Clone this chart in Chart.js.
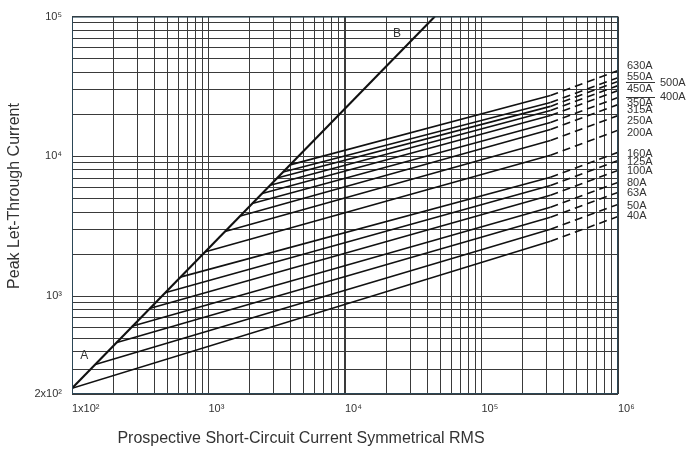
<!DOCTYPE html>
<html lang="en">
<head>
<meta charset="UTF-8">
<title>Peak Let-Through Current</title>
<script src="https://cdn.jsdelivr.net/npm/chart.js"></script>
<style>
  body { margin: 0; background: #fff; }
</style>
</head>
<body>
<canvas id="myChart" width="688" height="450"></canvas>
<script>
// fuse ratings, top curve first
const ratings = ['630A', '550A', '500A', '450A', '400A', '350A', '315A', '250A', '200A', '160A', '125A', '100A', '80A', '63A', '50A', '40A'];
// where each curve leaves line B (prospective A, peak A)
const startCurrent = [3960, 3520, 3180, 2830, 2470, 2090, 1710, 1320, 950, 620, 480, 375, 275, 210, 148, 100];
const startPeak = [8700, 7750, 7000, 6230, 5440, 4600, 3750, 2910, 2080, 1370, 1060, 820, 610, 465, 325, 220];
// end of the solid part
const solidEndCurrent = 320000;
const solidEndPeak = [27300, 24300, 22800, 21300, 19600, 17500, 15600, 13000, 10200, 7100, 6200, 5270, 4330, 3670, 3010, 2470];
// dashed extension up to 10^6
const dashEndCurrent = 1000000;
const dashEndPeak = [41100, 36600, 34400, 32100, 29600, 26400, 23500, 19600, 15400, 10700, 9350, 7940, 6520, 5530, 4540, 3720];
// line A-B
const lineBCurrent = [100, 45500];
const lineBPeak = [220, 100000];

// tick labels
const xTickValues = [100, 1000, 10000, 100000, 1000000];
const xTickText = ['1x10\u00B2', '10\u00B3', '10\u2074', '10\u2075', '10\u2076'];
const yTickValues = [200, 1000, 10000, 100000];
const yTickText = ['2x10\u00B2', '10\u00B3', '10\u2074', '10\u2075'];

// labels at right side (500A and 400A sit between the ruled pairs)
const sideText = ['630A', '550A', '450A', '350A', '315A', '250A', '200A', '160A', '125A', '100A', '80A', '63A', '50A', '40A'];
const sideY = [66, 77, 89, 103, 110, 121, 133, 154, 162, 171, 183, 193, 206, 216];

const FONT = '"Liberation Sans", Arial, "DejaVu Sans", sans-serif';
const INK = '#111';

function logGrid(from, to) {
    const out = [];
    for (let d = 1; d <= to; d *= 10) {
        for (let m = 1; m <= 9; m++) {
            const v = m * d;
            if (v >= from && v <= to) out.push({ value: v });
        }
    }
    return out;
}

const datasets = [{
    data: lineBCurrent.map((x, i) => ({ x: x, y: lineBPeak[i] })),
    borderColor: INK,
    borderWidth: 2.2
}];
ratings.forEach((r, i) => {
    datasets.push({
        label: r,
        data: [{ x: startCurrent[i], y: startPeak[i] }, { x: solidEndCurrent, y: solidEndPeak[i] }],
        borderColor: INK,
        borderWidth: 1.6
    });
    datasets.push({
        label: r + ' (ext)',
        data: [{ x: solidEndCurrent, y: solidEndPeak[i] }, { x: dashEndCurrent, y: dashEndPeak[i] }],
        borderColor: INK,
        borderWidth: 1.6,
        borderDash: [8, 5]
    });
});

const annotate = {
    id: 'annotate',
    afterDraw(chart) {
        const { ctx, chartArea, scales } = chart;
        ctx.save();
        ctx.strokeStyle = '#2b4656';
        ctx.lineWidth = 1;
        ctx.strokeRect(chartArea.left + 0.5, chartArea.top + 0.5, chartArea.right - chartArea.left - 1, chartArea.bottom - chartArea.top - 1);

        ctx.fillStyle = '#333';
        ctx.font = '11px ' + FONT;
        ctx.textBaseline = 'middle';
        ctx.textAlign = 'left';
        const lx = chartArea.right + 9;
        sideText.forEach((t, i) => ctx.fillText(t, lx, sideY[i]));
        ctx.fillText('500A', lx + 33, 83);
        ctx.fillText('400A', lx + 33, 97);
        ctx.strokeStyle = '#333';
        ctx.beginPath();
        ctx.moveTo(lx - 1, 82.5); ctx.lineTo(lx + 28, 82.5);
        ctx.moveTo(lx - 1, 97.5); ctx.lineTo(lx + 28, 97.5);
        ctx.stroke();

        // end markers of line A-B
        ctx.font = '12px ' + FONT;
        ctx.textAlign = 'center';
        ctx.fillText('A', scales.x.getPixelForValue(123), scales.y.getPixelForValue(373));
        ctx.fillText('B', scales.x.getPixelForValue(24000), scales.y.getPixelForValue(75700));

        // axis titles
        ctx.font = '16px ' + FONT;
        ctx.fillText('Prospective Short-Circuit Current Symmetrical RMS', 301, 439);
        ctx.translate(15, 196);
        ctx.rotate(-Math.PI / 2);
        ctx.fillText('Peak Let-Through Current', 0, 0);
        ctx.restore();
    }
};

const ctx = document.getElementById('myChart').getContext('2d');
new Chart(ctx, {
    type: 'scatter',
    data: { datasets: datasets },
    options: {
        responsive: false,
        animation: false,
        showLine: true,
        elements: { point: { radius: 0, hoverRadius: 0 }, line: { tension: 0 } },
        layout: { padding: { top: 16, right: 70, bottom: 0, left: 0 } },
        plugins: { legend: { display: false }, tooltip: { enabled: false } },
        scales: {
            x: {
                type: 'logarithmic',
                min: 100,
                max: 1000000,
                afterBuildTicks: s => { s.ticks = logGrid(100, 1000000); },
                afterFit: s => { s.height = 56; },
                grid: {
                    color: '#3a3a3a',
                    lineWidth: c => (c.tick && c.tick.value === 10000 ? 2 : 1),
                    drawTicks: false
                },
                border: { display: false },
                ticks: {
                    autoSkip: false,
                    maxRotation: 0,
                    align: 'start',
                    padding: 8,
                    color: '#333',
                    font: { size: 11, family: FONT },
                    callback: v => {
                        const k = xTickValues.indexOf(v);
                        return k < 0 ? '' : xTickText[k];
                    }
                }
            },
            y: {
                type: 'logarithmic',
                min: 200,
                max: 100000,
                afterBuildTicks: s => { s.ticks = logGrid(200, 100000); },
                afterFit: s => { s.width = 72; },
                grid: { color: '#3a3a3a', lineWidth: 1, drawTicks: false },
                border: { display: false },
                ticks: {
                    autoSkip: false,
                    padding: 10,
                    color: '#333',
                    font: { size: 11, family: FONT },
                    callback: v => {
                        const k = yTickValues.indexOf(v);
                        return k < 0 ? '' : yTickText[k];
                    }
                }
            }
        }
    },
    plugins: [annotate]
});
</script>
</body>
</html>
